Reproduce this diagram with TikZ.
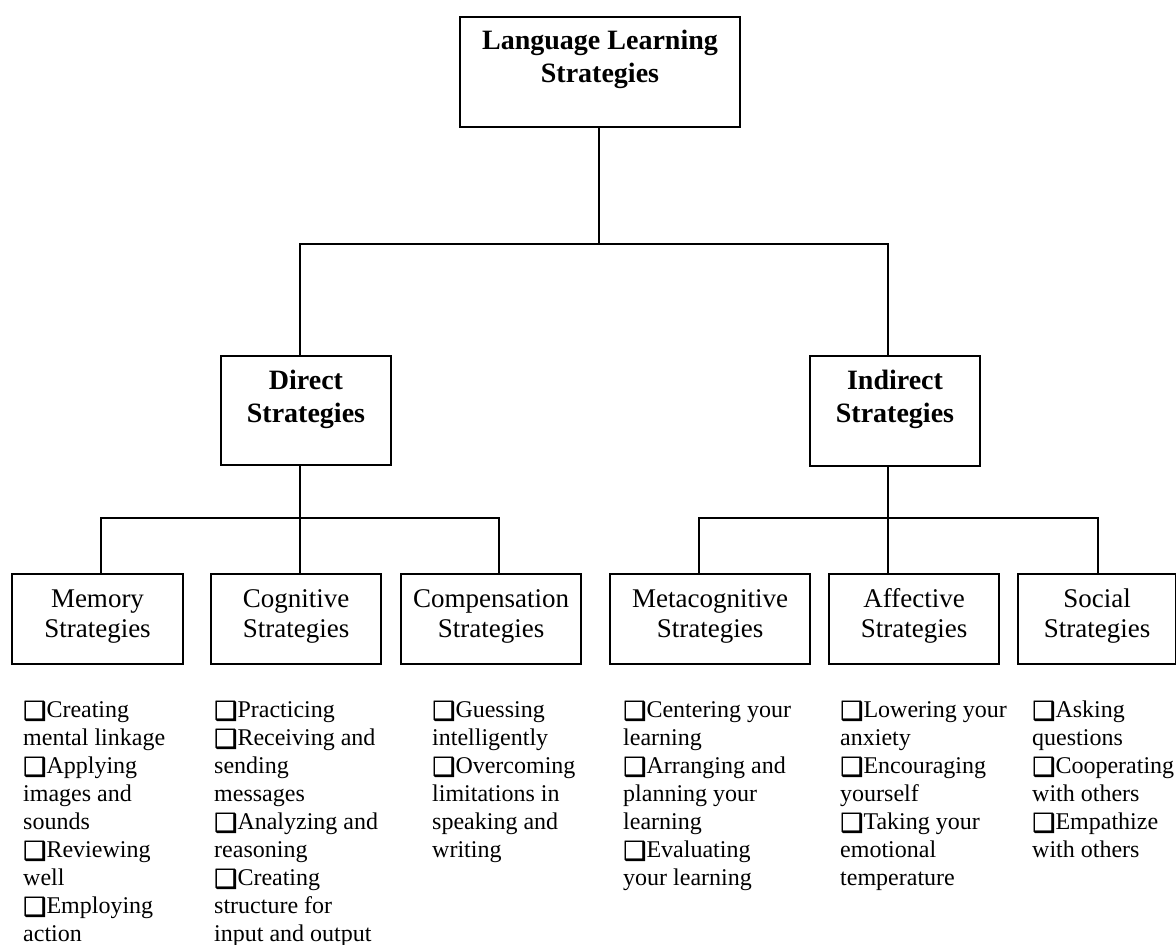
\documentclass[tikz,border=0pt]{standalone}
\usepackage{fontspec}
\setmainfont{Liberation Serif}
\newfontfamily\symfont[FakeBold=1.2]{DejaVu Sans}
\usetikzlibrary{calc}

% shadowed check box used as the list bullet
\newcommand\qbox{\raisebox{-2.5pt}{\symfont\fontsize{26}{28}\selectfont ❑}}
% fixed-height strut so the first baseline sits at a known distance
\newcommand\firstline{\rule{0pt}{20pt}}

\tikzset{
  box/.style={draw, line width=2pt, inner sep=0pt, anchor=north west},
  titlelbl/.style={inner sep=0pt, anchor=north, align=center,
    font=\fontsize{28}{33}\selectfont\bfseries},
  boxlbl/.style={inner sep=0pt, anchor=north, align=center,
    font=\fontsize{27}{30}\selectfont},
  itemlist/.style={inner sep=0pt, anchor=north west, align=left,
    font=\fontsize{24}{28}\selectfont},
  conn/.style={line width=2pt}
}

\begin{document}
\begin{tikzpicture}[x=1pt, y=-1pt]
\useasboundingbox (0,0) rectangle (1176,945);

% ---- level 0 ----
\node[box, minimum width=280pt, minimum height=110pt] (lls) at (459,16) {};
\node[titlelbl] (llsT) at ($(lls.north)+(0,13)$) {\firstline Language Learning\\Strategies};

% ---- level 1 ----
\node[box, minimum width=170pt, minimum height=109pt] (direct) at (220,355) {};
\node[titlelbl] (directT) at ($(direct.north)+(0,14)$) {\firstline Direct\\Strategies};
\node[box, minimum width=170pt, minimum height=110pt] (indirect) at (809,355) {};
\node[titlelbl] (indirectT) at ($(indirect.north)+(0,14)$) {\firstline Indirect\\Strategies};

% ---- level 2 ----
\node[box, minimum width=171pt, minimum height=90pt] (mem) at (11,573) {};
\node[boxlbl] (memT) at ($(mem.north)+(0,14)$) {\firstline Memory\\Strategies};
\node[box, minimum width=170pt, minimum height=90pt] (cog) at (210,573) {};
\node[boxlbl] (cogT) at ($(cog.north)+(0,14)$) {\firstline Cognitive\\Strategies};
\node[box, minimum width=180pt, minimum height=90pt] (comp) at (400,573) {};
\node[boxlbl] (compT) at ($(comp.north)+(0,14)$) {\firstline Compensation\\Strategies};
\node[box, minimum width=200pt, minimum height=90pt] (meta) at (609,573) {};
\node[boxlbl] (metaT) at ($(meta.north)+(0,14)$) {\firstline Metacognitive\\Strategies};
\node[box, minimum width=170pt, minimum height=90pt] (aff) at (828,573) {};
\node[boxlbl] (affT) at ($(aff.north)+(0,14)$) {\firstline Affective\\Strategies};
\node[box, minimum width=158pt, minimum height=90pt] (soc) at (1017,573) {};
\node[boxlbl] (socT) at ($(soc.north)+(0,14)$) {\firstline Social\\Strategies};

% ---- connector junctions ----
\coordinate (jTop) at (599,244);
\coordinate (jD) at (300,244);
\coordinate (jI) at (888,244);
\coordinate (jD2) at (300,518);
\coordinate (jI2) at (888,518);
\coordinate (jMem) at (101,518);
\coordinate (jComp) at (499,518);
\coordinate (jMeta) at (699,518);
\coordinate (jSoc) at (1098,518);

\draw[conn] (jTop |- lls.south) -- (jTop);
\draw[conn] (jD |- direct.north) -- (jD) -- (jI) -- (jI |- indirect.north);

\draw[conn] (jD2 |- direct.south) -- (jD2 |- cog.north);
\draw[conn] (jMem |- mem.north) -- (jMem) -- (jComp) -- (jComp |- comp.north);

\draw[conn] (jI2 |- indirect.south) -- (jI2 |- aff.north);
\draw[conn] (jMeta |- meta.north) -- (jMeta) -- (jSoc) -- (jSoc |- soc.north);

% ---- item lists ----
\node[itemlist] (memL) at (23,697) {\firstline\qbox Creating\\mental linkage\\\qbox Applying\\images and\\sounds\\\qbox Reviewing\\well\\\qbox Employing\\action};
\node[itemlist] (cogL) at (214,697) {\firstline\qbox Practicing\\\qbox Receiving and\\sending\\messages\\\qbox Analyzing and\\reasoning\\\qbox Creating\\structure for\\input and output};
\node[itemlist] (compL) at (432,697) {\firstline\qbox Guessing\\intelligently\\\qbox Overcoming\\limitations in\\speaking and\\writing};
\node[itemlist] (metaL) at (623,697) {\firstline\qbox Centering your\\learning\\\qbox Arranging and\\planning your\\learning\\\qbox Evaluating\\your learning};
\node[itemlist] (affL) at (840,697) {\firstline\qbox Lowering your\\anxiety\\\qbox Encouraging\\yourself\\\qbox Taking your\\emotional\\temperature};
\node[itemlist] (socL) at (1032,697) {\firstline\qbox Asking\\questions\\\qbox Cooperating\\with others\\\qbox Empathize\\with others};
\end{tikzpicture}
\end{document}
